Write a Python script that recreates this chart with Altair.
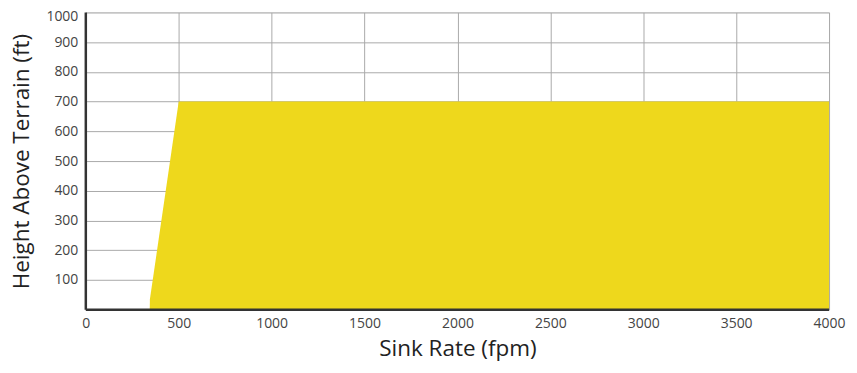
import altair as alt
import pandas as pd

sink_rate = [344, 345, 500, 4000]
height = [0, 35, 700, 700]
x_ticks = [0, 500, 1000, 1500, 2000, 2500, 3000, 3500, 4000]
y_ticks = [100, 200, 300, 400, 500, 600, 700, 800, 900, 1000]

df = pd.DataFrame({"x": sink_rate, "y": height})
axis_df = pd.DataFrame({"x": [0, 0], "x1": [0, 4000], "y": [0, 0], "y1": [1000, 0]})

FONT = "Open Sans"
xs = alt.Scale(domain=[0, 4000], nice=False, zero=False)
ys = alt.Scale(domain=[0, 1000], nice=False)

common = dict(grid=True, gridColor="#aaaaaa", gridWidth=1, ticks=False, domain=False,
              labelFont=FONT, labelFontSize=14, labelColor="#444444",
              titleFont=FONT, titleFontSize=22.5, titleFontWeight="normal",
              titleColor="#222222", labelFlush=False, format="d", labelOverlap=False)

x_axis = alt.Axis(values=x_ticks, title="Sink Rate (fpm)", labelPadding=7,
                  titlePadding=7, **common)
y_axis = alt.Axis(values=y_ticks, title="Height Above Terrain (ft)",
                  labelPadding=8, titlePadding=12,
                  labelOffset=alt.condition(alt.datum.value == 1000, alt.value(4), alt.value(0)),
                  **common)

area = alt.Chart(df).mark_area(color="#EED81C", opacity=1).encode(
    x=alt.X("x:Q", scale=xs, axis=x_axis, title="Sink Rate (fpm)"),
    y=alt.Y("y:Q", scale=ys, axis=y_axis, title="Height Above Terrain (ft)"),
)

domains = alt.Chart(axis_df).mark_rule(color="#333333", strokeWidth=2.5).encode(
    x=alt.X("x:Q", scale=xs, axis=x_axis, title="Sink Rate (fpm)"), x2="x1:Q",
    y=alt.Y("y:Q", scale=ys, axis=y_axis, title="Height Above Terrain (ft)"), y2="y1:Q",
)

chart = alt.layer(area, domains).properties(
    width=745, height=298,
    autosize=alt.AutoSizeParams(type="none"),
    padding={"left": 78, "top": 4, "right": 20, "bottom": 60},
).configure_view(stroke="#aaaaaa", strokeWidth=1).configure(background="white")

chart.save("out.html", embed_options={"renderer": "svg", "actions": False})
